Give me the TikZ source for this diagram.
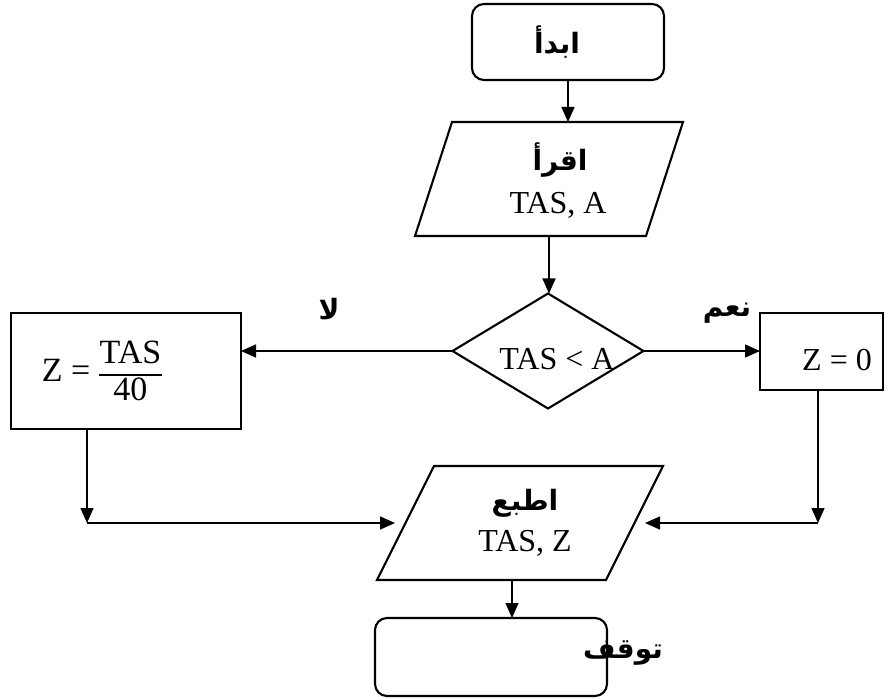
\documentclass[tikz,border=0pt]{standalone}
\usepackage{fontspec}
\setmainfont{Liberation Serif}
\newfontfamily\arabicfont[Script=Arabic]{DejaVu Sans}
\TeXXeTstate=1
\usetikzlibrary{shapes.geometric,arrows.meta}
\newcommand{\artxt}[1]{{\arabicfont\bfseries\fontsize{28}{32}\selectfont\beginR #1\endR}}
\begin{document}
\begin{tikzpicture}[x=1pt,y=-1pt,
  box/.style={draw,line width=2.1pt,inner sep=0pt,outer sep=0pt},
  holder/.style={inner sep=0pt,outer sep=0pt},
  line/.style={line width=1.5pt},
  arr/.style={line,-{Triangle[length=15pt,width=13pt]}},
  txt/.style={font=\fontsize{32}{36}\selectfont,inner sep=0pt}]
\useasboundingbox (0,0) rectangle (888,700);

% shapes
\node[box,rounded corners=12pt,minimum width=192pt,minimum height=76pt] (start) at (568,42) {};
\node[holder,minimum width=268pt,minimum height=114pt] (p1) at (549,179) {};
\draw[box,line join=miter] ([xshift=37pt]p1.north west) -- (p1.north east) -- ([xshift=-37pt]p1.south east) -- (p1.south west) -- cycle;
\node[box,diamond,aspect=1.66,minimum width=191pt,minimum height=115pt] (dec) at (548,351) {};
\node[box,minimum width=230pt,minimum height=116pt] (L) at (126,371) {};
\node[box,minimum width=123pt,minimum height=77pt] (R) at (821.5,351.5) {};
\node[holder,minimum width=286pt,minimum height=114pt] (p2) at (520,523) {};
\draw[box] ([xshift=57pt]p2.north west) -- (p2.north east) -- ([xshift=-57pt]p2.south east) -- (p2.south west) -- cycle;
\node[box,rounded corners=12pt,minimum width=232pt,minimum height=78pt] (stop) at (491,657) {};

% texts
\node[txt] (t0) at (557,42) {\artxt{ابدأ}};
\node[txt] (t1a) at (560,160) {\artxt{اقرأ}};
\node[txt] (t1b) at (558,205) {TAS, A};
\node[txt] (t2) at (557,359) {TAS < A};
\node[txt,font=\fontsize{34}{38}\selectfont] (tL) at (102,375) {Z = $\vcenter{\hbox{\setlength{\arrayrulewidth}{1.3pt}\setlength{\tabcolsep}{1pt}\renewcommand{\arraystretch}{0.95}\begin{tabular}{c}TAS\\\hline 40\end{tabular}}}$};
\node[txt] (tR) at (837,360) {Z = 0};
\node[txt] (t3a) at (525,503) {\artxt{اطبع}};
\node[txt] (t3b) at (525,543) {TAS, Z};
\node[txt] (tstop) at (623,653) {\artxt{توقف}};
\node[txt] (no) at (329,309) {\artxt{لا}};
\node[txt] (yes) at (727,313) {\artxt{نعم}};

% connectors
\coordinate (cL) at (87,523);
\coordinate (cR) at (818,523);
\draw[arr] (start.south) -- (start.south |- p1.north);
\draw[arr] (p1.south) -- (p1.south |- dec.north);
\draw[arr] (dec.west) -- (dec.west -| L.east);
\draw[arr] (dec.east) -- (dec.east -| R.west);
\draw[arr] (L.south -| cL) -- (cL);
\draw[arr] (cL) -- ([xshift=18pt]p2.west);
\draw[arr] (R.south -| cR) -- (cR);
\draw[arr] (cR) -- ([xshift=-18pt]p2.east);
\draw[arr] ([xshift=-8pt]p2.south) -- ([xshift=-8pt]p2.south |- stop.north);
\end{tikzpicture}
\end{document}
